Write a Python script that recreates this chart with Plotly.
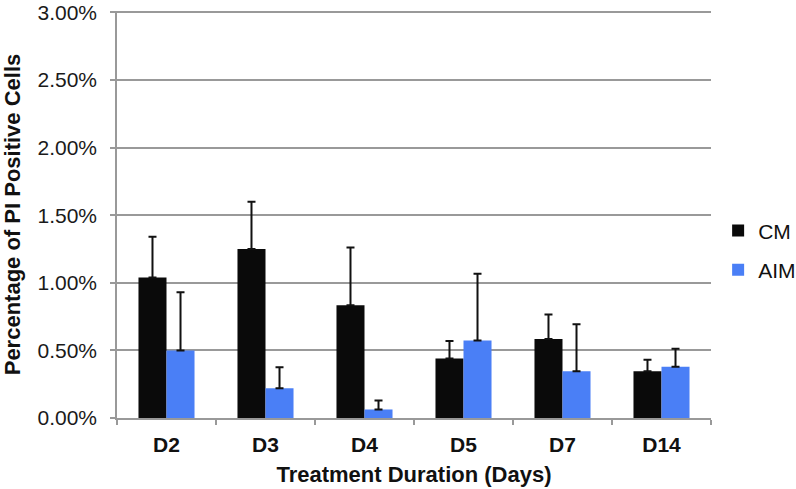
import plotly.graph_objects as go

categories = ["D2", "D3", "D4", "D5", "D7", "D14"]
cm_values = [1.04, 1.25, 0.835, 0.44, 0.585, 0.345]
cm_errors = [0.30, 0.35, 0.427, 0.13, 0.18, 0.086]
aim_values = [0.50, 0.22, 0.063, 0.573, 0.345, 0.38]
aim_errors = [0.43, 0.155, 0.066, 0.495, 0.348, 0.132]
y_ticks = [0, 0.5, 1.0, 1.5, 2.0, 2.5, 3.0]
y_tick_labels = ["0.00%", "0.50%", "1.00%", "1.50%", "2.00%", "2.50%", "3.00%"]

FONT = "Liberation Sans, Arial, sans-serif"
GRID = "#999999"

fig = go.Figure()
fig.add_trace(go.Bar(
    name="CM", x=categories, y=cm_values, marker=dict(color="#0a0a0a", line=dict(width=0)),
    legendgroup="cm",
    error_y=dict(type="data", array=cm_errors, arrayminus=[0]*len(cm_errors),
                 symmetric=False, color="#111111", thickness=2, width=4),
))
fig.add_trace(go.Bar(
    name="AIM", x=categories, y=aim_values, marker=dict(color="#4a7ff6", line=dict(width=0)),
    legendgroup="aim",
    error_y=dict(type="data", array=aim_errors, arrayminus=[0]*len(aim_errors),
                 symmetric=False, color="#111111", thickness=2, width=4),
))

fig.update_layout(
    width=796, height=489,
    margin=dict(l=117, r=85, t=11, b=71, autoexpand=False),
    paper_bgcolor="white", plot_bgcolor="white",
    barmode="group", bargap=0.434, bargroupgap=0,
    font=dict(family=FONT, size=21, color="#1a1a1a"),
    legend=dict(x=1.012, xanchor="left", y=0.412, yanchor="middle",
                font=dict(size=21, color="#111111"),
                traceorder="grouped", tracegroupgap=9,
                bgcolor="rgba(0,0,0,0)"),
    xaxis=dict(
        showline=True, linecolor=GRID, linewidth=1.5,
        ticks="outside", tickson="boundaries", ticklen=5, tickcolor=GRID, tickwidth=1.5,
        ticklabelstandoff=7,
        tickfont=dict(family=FONT, size=21, color="#111111", weight="bold"),
        title=dict(text="<b>Treatment Duration (Days)</b>", font=dict(size=22, color="#111111"), standoff=12),
        showgrid=False,
    ),
    yaxis=dict(
        range=[0, 3.011], tickvals=y_ticks, ticktext=y_tick_labels,
        showline=True, linecolor=GRID, linewidth=1.5,
        ticks="outside", ticklen=5, tickcolor=GRID, tickwidth=1.5,
        ticklabelstandoff=9, ticklabeloverflow="allow",
        tickfont=dict(family=FONT, size=21, color="#1a1a1a"),
        showgrid=True, gridcolor=GRID, gridwidth=1.5,
        zeroline=False,
        title=dict(text="<b>Percentage of PI Positive Cells</b>", font=dict(size=22, color="#111111"), standoff=13),
    ),
)

fig.write_html("out.html", config={"displayModeBar": False},
               post_script="document.body.style.margin='0';document.body.style.padding='0';")
